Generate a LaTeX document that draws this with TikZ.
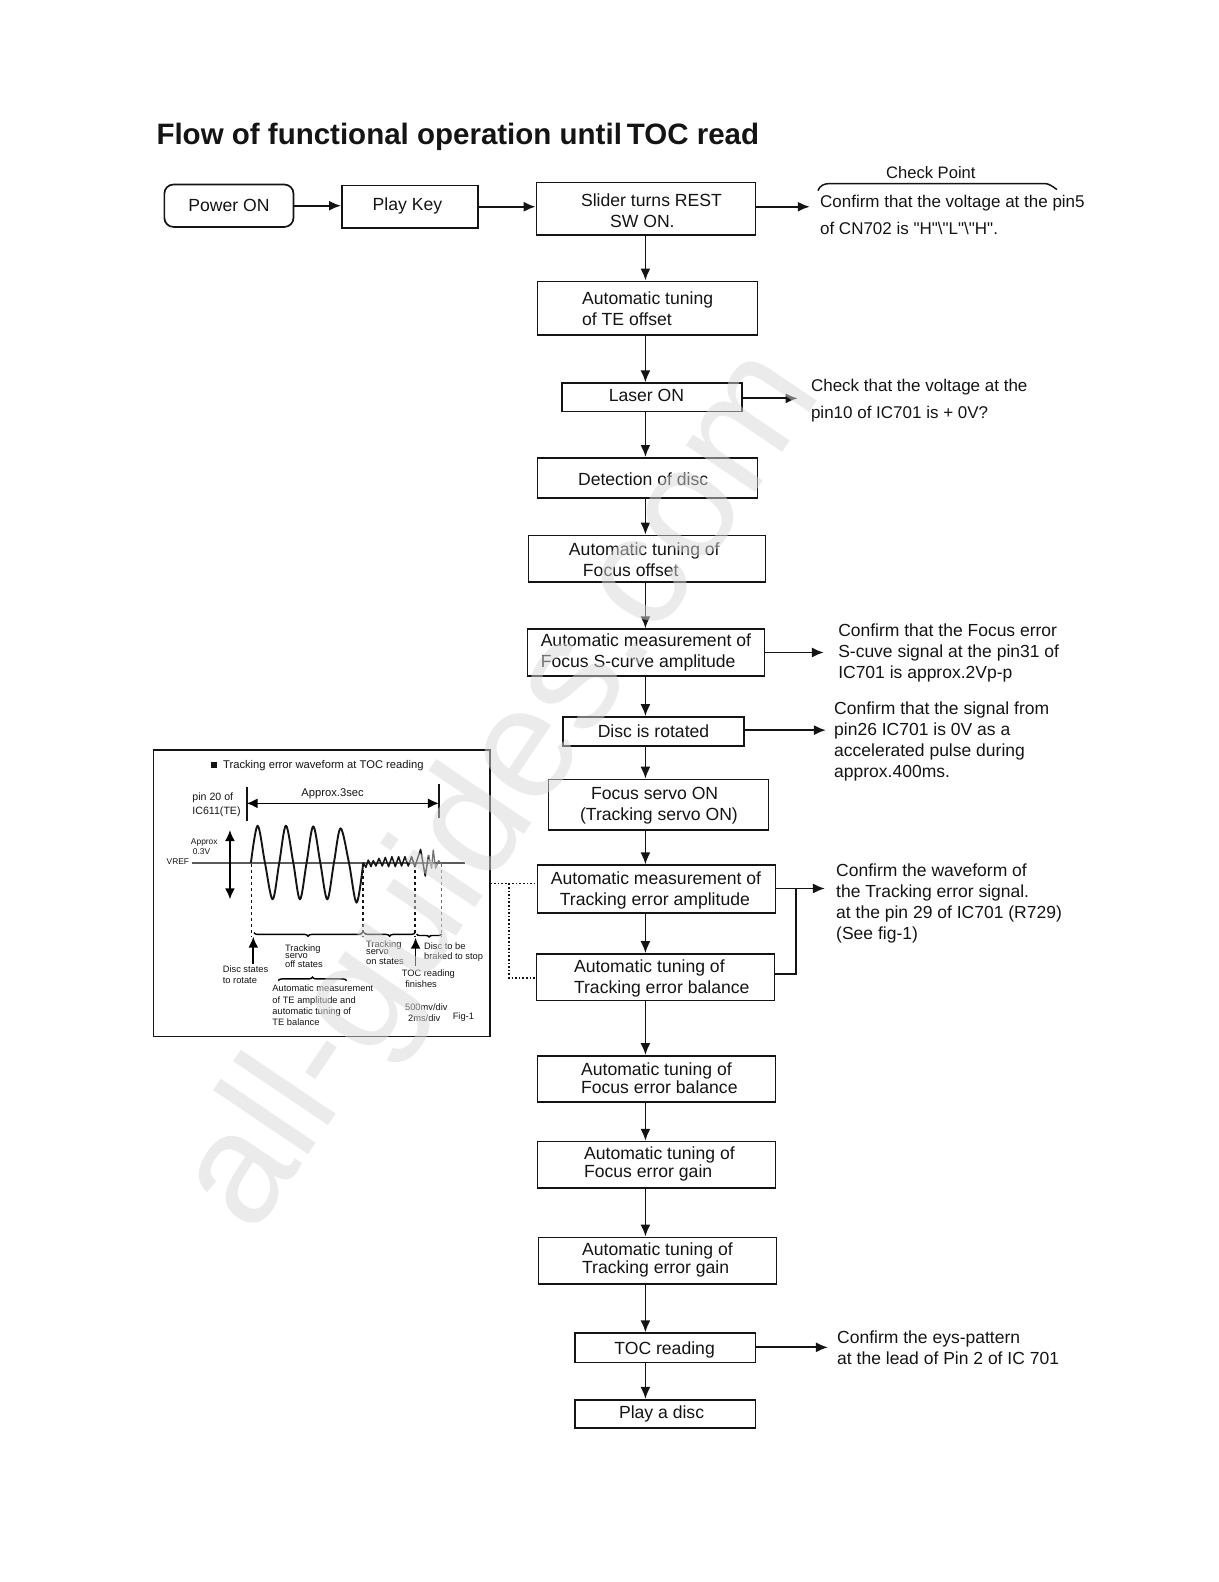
\documentclass[tikz,border=0pt]{standalone}
\usepackage{fontspec}
\setmainfont{Liberation Sans}
\newfontfamily\quotefont{Liberation Sans}
\usetikzlibrary{arrows.meta,fit,decorations.pathreplacing}
\definecolor{InkBlack}{RGB}{20,20,20}
\definecolor{MarkGray}{RGB}{215,215,215}
\tikzset{
  flowbox/.style={draw=InkBlack, line width=1.7pt, inner sep=0pt},
  flowtext/.style={anchor=west, align=left, inner sep=0pt, text=InkBlack, font=\fontsize{17.6}{21}\selectfont},
  midtext/.style={flowtext, anchor=center},
  notetext/.style={anchor=west, align=left, inner sep=0pt, text=InkBlack, font=\fontsize{17.5}{21}\selectfont},
  flowarrow/.style={line width=1.8pt, draw=InkBlack, -{Latex[length=12pt,width=10pt]}},
  smalltext/.style={inner sep=0pt, align=left, text=InkBlack, font=\fontsize{9.3}{10.5}\selectfont},
  waveline/.style={line width=1.9pt, draw=InkBlack, line join=round}
}
\begin{document}
\begin{tikzpicture}[x=1.0085pt, y=-1.0085pt]
  \useasboundingbox (0,0) rectangle (1208.7,1568.7);
  %title
  \node[anchor=west, inner sep=0pt, text=InkBlack, font=\fontsize{29.5}{32}\bfseries\selectfont] (title) at (155,136) {Flow of functional operation until\,TOC read};
  %spine of the flow
  \coordinate (spine) at (640,0);
  %top row
  \node[flowbox, rounded corners=9pt, fit={(163,183) (291,225)}] (power) {};
  \node[midtext] (powertext) at (227,204) {Power ON};
  \node[flowbox, fit={(339,184) (474,226)}] (playkey) {};
  \node[midtext] (playkeytext) at (404,204) {Play Key};
  \node[flowbox, fit={(532,181) (749,233)}] (slider) {};
  \node[flowtext] (slidertext) at (576,209) {Slider turns REST\\\hspace*{29pt}SW ON.};
  %boxes down the page
  \node[flowbox, fit={(533,279) (751,332)}] (teoffset) {};
  \node[flowtext] (teoffsettext) at (577,306.5) {Automatic tuning\\of TE offset};
  \node[flowbox, fit={(557,380) (736,408)}] (laser) {};
  \node[midtext] (lasertext) at (641,392) {Laser ON};
  \node[flowbox, fit={(533,454) (751,494)}] (detect) {};
  \node[flowtext] (detecttext) at (573,475.5) {Detection of disc};
  \node[flowbox, fit={(524,531) (759,577)}] (focusoffset) {};
  \node[flowtext] (focusoffsettext) at (564,555) {Automatic tuning of\\\hspace*{14pt}Focus offset};
  \node[flowbox, fit={(523,624) (758,670)}] (scurve) {};
  \node[flowtext] (scurvetext) at (536,646.5) {Automatic measurement of\\Focus S-curve amplitude};
  \node[flowbox, fit={(558,711) (738,740)}] (rotated) {};
  \node[midtext] (rotatedtext) at (648,725.5) {Disc is rotated};
  \node[flowbox, fit={(544,773) (762,823)}] (servo) {};
  \node[flowtext] (servotext) at (575,798.5) {\hspace*{11pt}Focus servo ON\\(Tracking servo ON)};
  \node[flowbox, fit={(533,858) (769,905)}] (teamp) {};
  \node[flowtext] (teamptext) at (546,882.5) {Automatic measurement of\\\hspace*{9pt}Tracking error amplitude};
  \node[flowbox, fit={(532,946) (768,992)}] (tebal) {};
  \node[flowtext] (tebaltext) at (569,970.5) {Automatic tuning of\\Tracking error balance};
  \node[flowbox, fit={(533,1047) (769,1093)}] (febal) {};
  \node[flowtext] (febaltext) at (576,1069) {Automatic tuning of\\[-3pt]Focus error balance};
  \node[flowbox, fit={(533,1132) (769,1178)}] (fegain) {};
  \node[flowtext] (fegaintext) at (579,1154) {Automatic tuning of\\[-3pt]Focus error gain};
  \node[flowbox, fit={(534,1227) (770,1273)}] (tegain) {};
  \node[flowtext] (tegaintext) at (577,1249) {Automatic tuning of\\[-3pt]Tracking error gain};
  \node[flowbox, fit={(570,1322) (749,1351)}] (tocread) {};
  \node[midtext] (tocreadtext) at (659,1338.5) {TOC reading};
  \node[flowbox, fit={(570,1388) (749,1416)}] (playdisc) {};
  \node[midtext] (playdisctext) at (656,1402.5) {Play a disc};
  %arrows of the top row
  \draw[flowarrow] (power.east |- 0,204) -- (playkey.west |- 0,204);
  \draw[flowarrow] (playkey.east |- 0,205) -- (slider.west |- 0,205);
  %arrows down the page
  \foreach \upper/\lower in {slider/teoffset, teoffset/laser, laser/detect, detect/focusoffset, focusoffset/scurve, scurve/rotated, rotated/servo, servo/teamp, teamp/tebal, tebal/febal, febal/fegain, fegain/tegain, tegain/tocread, tocread/playdisc}
    \draw[flowarrow] (\upper.south -| spine) -- (\lower.north -| spine);
  %check points on the right
  \node[anchor=center, inner sep=0pt, text=InkBlack, font=\fontsize{16.6}{20}\selectfont] (checkpoint) at (923,171.5) {Check Point};
  \draw[line width=1.5pt, draw=InkBlack] (811,189) .. controls (813,184) and (817,182) .. (823,182) -- (1036,182) .. controls (1040,182) and (1044,185) .. (1048,188);
  \node[notetext, font=\fontsize{17}{21}\selectfont] (note1) at (813,201) {Confirm that the voltage at the pin5};
  \node[notetext, font=\fontsize{17}{21}\quotefont] (note1b) at (813,226.5) {of CN702 is "H"\textbackslash"L"\textbackslash"H".};
  \node[notetext, font=\fontsize{17}{21}\selectfont] (note2) at (804,384) {Check that the voltage at the};
  \node[notetext, font=\fontsize{17}{21}\selectfont] (note2b) at (804,411) {pin10 of IC701 is + 0V?};
  \node[notetext] (note3) at (831,647) {Confirm that the Focus error\\S-cuve signal at the pin31 of\\IC701 is approx.2Vp-p};
  \node[notetext] (note4) at (827,735.5) {Confirm that the signal from\\pin26 IC701 is 0V as a\\accelerated pulse during\\approx.400ms.};
  \node[notetext] (note5) at (829,896) {Confirm the waveform of\\the Tracking error signal.\\at the pin 29 of IC701 (R729)\\(See fig-1)};
  \node[notetext] (note6) at (830,1336.5) {Confirm the eys-pattern\\at the lead of Pin 2 of IC 701};
  \coordinate (end1) at (803,205);
  \coordinate (end2) at (791,395);
  \coordinate (end3) at (817,647);
  \coordinate (end4) at (819,724);
  \coordinate (end5) at (818,881);
  \coordinate (end6) at (821,1336);
  \draw[flowarrow] (slider.east |- end1) -- (end1);
  \draw[flowarrow] (laser.east |- end2) -- (end2);
  \draw[flowarrow] (scurve.east |- end3) -- (end3);
  \draw[flowarrow] (rotated.east |- end4) -- (end4);
  \draw[flowarrow] (teamp.east |- end5) -- (end5);
  \draw[flowarrow] (tocread.east |- end6) -- (end6);
  \coordinate (join) at (789,881);
  \draw[line width=1.8pt, draw=InkBlack] (tebal.east |- 0,966) -- (join |- 0,966) -- (join);
  %inset with the waveform, in crop units
  \begin{scope}[shift={(148.7,733.8)}, x=0.3333pt, y=-0.3333pt]
    \node[draw=InkBlack, line width=1.5pt, inner sep=0pt, fit={(10,30) (1020,890)}] (inset) {};
    \node[fill=InkBlack, inner sep=0pt, minimum width=6pt, minimum height=6pt] (bullet) at (193,74) {};
    \node[smalltext, anchor=west, font=\fontsize{11.2}{12}\selectfont] (insettitle) at (219,76) {Tracking error waveform at TOC reading};
    \node[smalltext, anchor=west, font=\fontsize{10.6}{14}\selectfont] (pinlabel) at (127,195) {pin 20 of\\IC611(TE)};
    \node[smalltext, anchor=center, font=\fontsize{11.2}{12}\selectfont] (approx3) at (548,160) {Approx.3sec};
    \coordinate (barl) at (290,190);
    \coordinate (barr) at (867,190);
    \draw[waveline] (290,140) -- (290,242);
    \draw[waveline] (867,132) -- (867,235);
    \draw[line width=1.6pt, {Latex[length=11pt,width=10pt]}-{Latex[length=11pt,width=10pt]}] (barl) -- (barr);
    \node[smalltext, font=\fontsize{8.4}{10.5}\selectfont] (approxv) at (163,320) {Approx\\\hspace*{2pt}0.3V};
    \node[smalltext, anchor=east, font=\fontsize{8.4}{10}\selectfont] (vref) at (118,366) {VREF};
    \draw[line width=1.3pt, draw=InkBlack!70] (125,369) -- (945,369);
    \draw[line width=1.8pt, {Latex[length=11pt,width=10pt]}-{Latex[length=11pt,width=10pt]}] (240,270) -- (240,478);
    %wave
    \draw[waveline] plot[smooth, tension=0.55] coordinates {(303,368) (323,257) (345,368) (368,478) (388,368) (408,257) (430,368) (450,478) (470,368) (490,259) (511,368) (532,478) (552,368) (572,265) (597,368) (620,488) (640,368)};
    \draw[line width=1.5pt, draw=InkBlack, line join=round] (640,368) -- (648,382) -- (655,360) -- (663,380) -- (670,362) -- (678,378) -- (687,355) -- (697,378) -- (706,352) -- (716,380) -- (726,350) -- (736,380) -- (746,350) -- (755,378) -- (765,350) -- (775,378) -- (785,350) -- (795,380) -- (812,328) -- (826,408) -- (836,345);
    \draw[line width=1.3pt, draw=InkBlack!60, line join=round] (836,345) -- (845,385) -- (850,330) -- (857,385) -- (866,362) -- (875,372);
    %dashed drops
    \foreach \dropx/\dropgray in {305/100, 640/100, 795/100, 875/65}
      \draw[line width=1.7pt, draw=InkBlack!\dropgray, dashed] (\dropx,372) -- (\dropx,590);
    %braces
    \draw[line width=1.4pt, decorate, decoration={brace, mirror, amplitude=3.5pt}] (312,578) -- (637,578);
    \draw[line width=1.4pt, decorate, decoration={brace, mirror, amplitude=3.5pt}] (643,578) -- (795,578);
    \draw[line width=1.4pt, decorate, decoration={brace, mirror, amplitude=3pt}] (800,582) -- (875,582);
    \draw[line width=1.4pt, decorate, decoration={brace, amplitude=3.5pt}] (385,722) -- (590,722);
    %up arrows
    \draw[line width=1.8pt, -{Latex[length=11pt,width=10pt]}] (310,672) -- (310,590);
    \draw[line width=1.8pt, -{Latex[length=11pt,width=10pt]}] (797,678) -- (797,593);
    %small labels
    \node[smalltext, anchor=west] (offstates) at (405,648) {Tracking\\[-3.5pt]servo\\[-1pt]off states};
    \node[smalltext, anchor=west] (onstates) at (648,638) {Tracking\\[-3.5pt]servo\\[-1pt]on states};
    \node[smalltext, anchor=west] (braked) at (822,637) {Disc to be\\braked to stop};
    \node[smalltext, anchor=west] (rotate) at (218,704) {Disc states\\to rotate};
    \node[smalltext, anchor=west] (tocfin) at (755,716) {TOC reading\\\hspace*{3.5pt}finishes};
    \node[smalltext, anchor=west, font=\fontsize{9.3}{11.3}\selectfont] (automeas) at (367,796) {Automatic measurement\\of TE amplitude and\\automatic tuning of\\TE balance};
    \node[smalltext, anchor=west] (scalelabel) at (765,818) {500mv/div\\\hspace*{3pt}2ms/div};
    \node[smalltext, anchor=west] (figlabel) at (908,832) {Fig-1};
  \end{scope}
  %dotted links from the inset
  \coordinate (dotdrop) at (505,876);
  \draw[line width=1.6pt, draw=InkBlack, dotted] (inset.east |- dotdrop) -- (teamp.west |- dotdrop);
  \draw[line width=1.6pt, draw=InkBlack, dotted] (dotdrop) -- (dotdrop |- 0,970) -- (tebal.west |- 0,970);
  %watermark, over everything
  \node[rotate=56, text=MarkGray, text opacity=0.5, font=\fontsize{158}{158}\selectfont, inner sep=0pt] (mark) at (500,785) {all-guides.com};
\end{tikzpicture}
\end{document}
